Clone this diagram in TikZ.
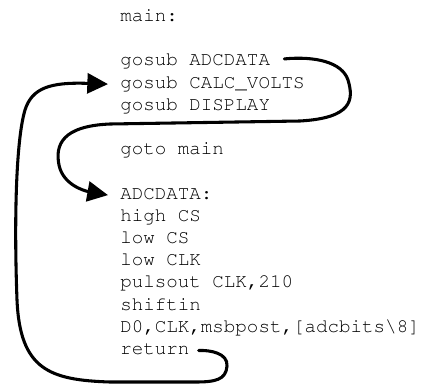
\documentclass[tikz,border=0pt]{standalone}
\usepackage[T1]{fontenc}
\usepackage{courier}
\usetikzlibrary{arrows.meta}
\tikzset{
  codeline/.style={anchor=base west, inner sep=0pt, font=\ttfamily\fontsize{14.4pt}{16pt}\selectfont},
  flow/.style={line width=2.3pt, line cap=round, line join=round, -{Triangle[length=15.5pt,width=15pt]}}
}
\begin{document}
\begin{tikzpicture}[x=0.75pt,y=-0.75pt]
\useasboundingbox[fill=white] (0,0) rectangle (423,385);
\foreach \k/\t in {0/{main:},2/{gosub ADCDATA},3/{gosub CALC\_VOLTS},4/{gosub DISPLAY},6/{goto main},8/{ADCDATA:},9/{high CS},10/{low CS},11/{low CLK},12/{pulsout CLK,210},13/{shiftin},14/{D0,CLK,msbpost,[adcbits\textbackslash 8]},15/{return}}
  \node[codeline] (l\k) at (120,{21.5+22.2*\k}) {\t};
\coordinate (s1) at ([shift={(14,-7)}]l2.base east);
\coordinate (e1) at ([shift={(-12,-4)}]l8.base west);
\coordinate (s2) at ([shift={(9,-4)}]l15.base east);
\coordinate (e2) at ([shift={(-12,-4)}]l3.base west);
\draw[flow] (s1) .. controls (315,56) and (342,62) .. (348,80)
  .. controls (354,100) and (352,118) .. (300,121)
  -- (110,124) .. controls (62,126) and (55,145) .. (59,165)
  .. controls (63,185) and (85,191) .. (e1);
\draw[flow] (s2) .. controls (210,350) and (228,353) .. (227,366)
  .. controls (226,380) and (215,382) .. (195,382)
  -- (110,382) .. controls (50,380) and (20,370) .. (17,300)
  .. controls (14,220) and (16,140) .. (25,110)
  .. controls (32,88) and (50,82) .. (e2);
\end{tikzpicture}
\end{document}
